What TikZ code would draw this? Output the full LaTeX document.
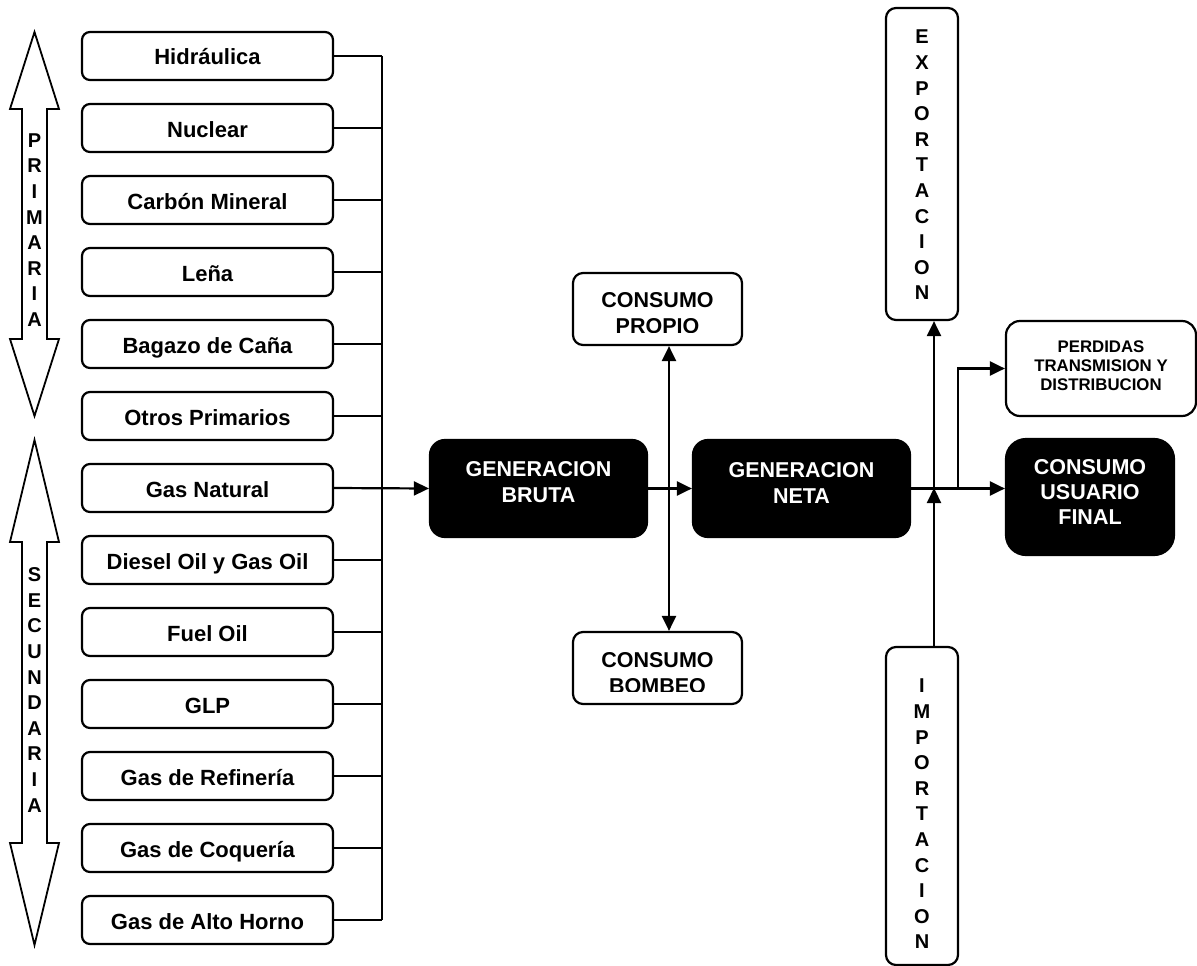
\documentclass[tikz,border=0pt]{standalone}
\usepackage{fontspec}
\setmainfont{Liberation Sans}
\usetikzlibrary{arrows.meta,calc}

\begin{document}
\begin{tikzpicture}[x=1pt,y=-1pt,
  line width=2.2pt,
  tip/.tip={Triangle[length=15pt,width=14pt]},
  flow/.style={-tip},
  srcbox/.style={draw, rounded corners=8pt, minimum width=251pt, minimum height=48pt,
    inner sep=0pt, text height=20pt, text depth=2pt,
    font=\fontsize{22}{26}\selectfont\bfseries},
  blkbox/.style={fill=black, draw=black, inner sep=0pt},
  blktxt/.style={text=white, align=center, inner sep=0pt},
  outbox/.style={draw, inner sep=0pt},
  boxtxt/.style={align=center, inner sep=0pt},
  vtxt/.style={align=center, inner sep=0pt, font=\fontsize{20}{25.6}\selectfont\bfseries},
  fatarrow/.style={draw, line width=1.8pt, line join=miter},
]
\useasboundingbox (0,0) rectangle (1197,966);

% double arrows grouping the sources
\draw[fatarrow] (34.5,32) -- (59,109) -- (47,109) -- (47,339) -- (59,339) -- (34.5,416)
  -- (10,339) -- (22,339) -- (22,109) -- (10,109) -- cycle;
\node[vtxt] (prim) at (34.5,230) {P\\R\\I\\M\\A\\R\\I\\A};
\draw[fatarrow] (34.5,440) -- (59,542) -- (47,542) -- (47,843) -- (59,843) -- (34.5,945)
  -- (10,843) -- (22,843) -- (22,542) -- (10,542) -- cycle;
\node[vtxt] (secu) at (34.5,690) {S\\E\\C\\U\\N\\D\\A\\R\\I\\A};

% energy sources
\foreach \t [count=\i from 0] in {Hidráulica, Nuclear, Carbón Mineral, Leña,
  Bagazo de Caña, Otros Primarios, Gas Natural, Diesel Oil y Gas Oil, Fuel Oil,
  GLP, Gas de Refinería, Gas de Coquería, Gas de Alto Horno}
  \node[srcbox] (s\i) at (207.5,{56+72*\i}) {\t};

% collector bus
\coordinate (bus) at (382,0);
\foreach \i in {0,...,12}
  \draw (s\i.east) -- (bus |- s\i.east);
\draw (bus |- s0.east) -- (bus |- s12.east);

% generation blocks
\node[blkbox, rounded corners=15pt, minimum width=217pt, minimum height=97pt] (gb) at (538.5,488.5) {};
\node[blktxt, font=\fontsize{21.5}{26}\selectfont\bfseries] (gbt) at ([yshift=6pt]gb.center) {GENERACION\\BRUTA};
\node[blkbox, rounded corners=15pt, minimum width=217pt, minimum height=97pt] (gn) at (801.5,488.5) {};
\node[blktxt, font=\fontsize{21.5}{26}\selectfont\bfseries] (gnt) at ([yshift=6pt]gn.center) {GENERACION\\NETA};
\node[blkbox, rounded corners=20pt, minimum width=168pt, minimum height=116pt] (cuf) at (1090,497) {};
\node[blktxt, font=\fontsize{21.5}{25}\selectfont\bfseries] (cuft) at ([yshift=5pt]cuf.center) {CONSUMO\\USUARIO\\FINAL};

% own consumption and pumping
\node[outbox, rounded corners=10pt, minimum width=169pt, minimum height=72pt] (propio) at (657.5,309) {};
\begin{scope}
  \clip ($(propio.south west)+(0,-14)$) rectangle (propio.north east);
  \node[boxtxt, font=\fontsize{21.5}{26}\selectfont\bfseries] (propiot) at ($(propio.center)+(0,4)$) {CONSUMO\\PROPIO};
\end{scope}
\node[outbox, rounded corners=10pt, minimum width=169pt, minimum height=72pt] (bombeo) at (657.5,668) {};
\begin{scope}
  \clip ($(bombeo.south west)+(0,-14)$) rectangle (bombeo.north east);
  \node[boxtxt, font=\fontsize{21.5}{26}\selectfont\bfseries] (bombeot) at ($(bombeo.center)+(0,5)$) {CONSUMO\\BOMBEO};
\end{scope}

% exchanges and losses
\node[outbox, rounded corners=10pt, minimum width=72pt, minimum height=312pt] (expo) at (922,164) {};
\node[vtxt] (expot) at (922,165) {E\\X\\P\\O\\R\\T\\A\\C\\I\\O\\N};
\node[outbox, rounded corners=10pt, minimum width=72pt, minimum height=318pt] (impo) at (922,806) {};
\node[vtxt] (impot) at (922,814) {I\\M\\P\\O\\R\\T\\A\\C\\I\\O\\N};
\node[outbox, rounded corners=14pt, minimum width=190pt, minimum height=95pt] (perd) at (1101,368.5) {};
\node[boxtxt, font=\fontsize{16.8}{19}\selectfont\bfseries] (perdt) at ([yshift=3pt]perd.center) {PERDIDAS\\TRANSMISION Y\\DISTRIBUCION};

% connectors
\draw[flow] (s6.east) -- (gb.west);
\draw[flow] (gb.east) -- (gn.west);
\coordinate (vtap) at (669,488);
\draw[tip-tip] (vtap |- propio.south) -- (vtap |- bombeo.north);
\draw[flow] (gn.east) -- (gn.east -| cuf.west);
\coordinate (xj) at (934,488);
\draw[flow] (xj) -- (xj |- expo.south);
\draw[flow] (xj |- impo.north) -- (xj);
\coordinate (pj) at (958,488);
\draw[flow] (pj) |- (perd.west);
\end{tikzpicture}
\end{document}
